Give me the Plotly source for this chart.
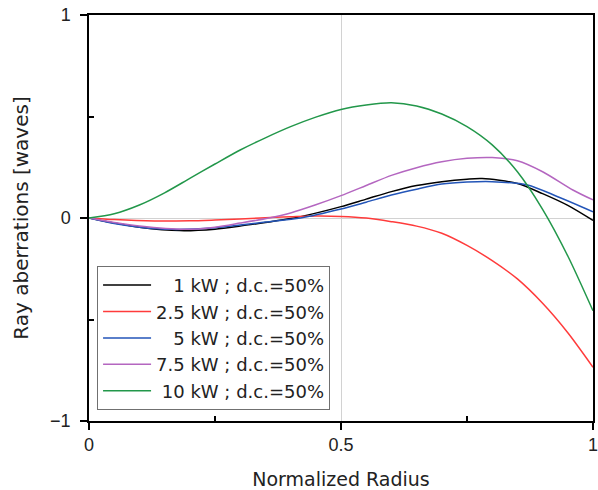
import plotly.graph_objects as go

# Ray aberration curves vs normalized pupil radius, per laser power (duty cycle 50%)
x_1kw = [0, 0.05, 0.1, 0.18, 0.25, 0.3, 0.35, 0.4, 0.45, 0.5, 0.55, 0.6, 0.65, 0.7, 0.75, 0.78, 0.85, 0.9, 0.95, 1.0]
y_1kw = [0, -0.025, -0.045, -0.062, -0.055, -0.04, -0.022, -0.003, 0.024, 0.056, 0.093, 0.13, 0.16, 0.179, 0.191, 0.194, 0.17, 0.12, 0.062, -0.012]

x_2p5kw = [0, 0.05, 0.13, 0.2, 0.25, 0.3, 0.34, 0.4, 0.45, 0.5, 0.55, 0.6, 0.65, 0.7, 0.75, 0.8, 0.85, 0.9, 0.95, 1.0]
y_2p5kw = [0, -0.008, -0.015, -0.014, -0.01, -0.005, 0, 0.006, 0.01, 0.008, 0, -0.018, -0.04, -0.075, -0.135, -0.21, -0.3, -0.42, -0.565, -0.735]

x_5kw = [0, 0.05, 0.1, 0.165, 0.25, 0.3, 0.35, 0.42, 0.5, 0.55, 0.6, 0.65, 0.7, 0.75, 0.8, 0.87, 0.93, 1.0]
y_5kw = [0, -0.027, -0.045, -0.056, -0.048, -0.035, -0.02, 0, 0.044, 0.078, 0.113, 0.142, 0.167, 0.177, 0.179, 0.163, 0.105, 0.031]

x_7p5kw = [0, 0.05, 0.1, 0.19, 0.25, 0.3, 0.357, 0.4, 0.45, 0.5, 0.55, 0.6, 0.65, 0.7, 0.75, 0.8, 0.85, 0.9, 0.96, 1.0]
y_7p5kw = [0, -0.022, -0.04, -0.056, -0.045, -0.025, 0, 0.025, 0.065, 0.11, 0.16, 0.21, 0.248, 0.277, 0.294, 0.298, 0.282, 0.228, 0.138, 0.089]

x_10kw = [0, 0.05, 0.1, 0.15, 0.2, 0.25, 0.3, 0.35, 0.4, 0.45, 0.5, 0.55, 0.6, 0.65, 0.7, 0.75, 0.8, 0.85, 0.9, 0.95, 1.0]
y_10kw = [0, 0.021, 0.064, 0.124, 0.195, 0.266, 0.335, 0.395, 0.45, 0.497, 0.535, 0.557, 0.568, 0.552, 0.512, 0.45, 0.36, 0.228, 0.043, -0.187, -0.457]

# figure space / punctuation space keep the legend text right-aligned
names = [
    "\u2007\u20081 kW ; d.c.=50%",
    "2.5 kW ; d.c.=50%",
    "\u2007\u20085 kW ; d.c.=50%",
    "7.5 kW ; d.c.=50%",
    "\u200810 kW ; d.c.=50%",
]
colors = ["#000000", "#ff3b3b", "#2355b8", "#b466c0", "#22974a"]
series = [(x_1kw, y_1kw), (x_2p5kw, y_2p5kw), (x_5kw, y_5kw), (x_7p5kw, y_7p5kw), (x_10kw, y_10kw)]

FONT = "DejaVu Sans, Liberation Sans, sans-serif"
TICKFONT = "Liberation Sans, Arial, sans-serif"
TXT = "#222222"

fig = go.Figure()
for (xs, ys), name, c in zip(series, names, colors):
    fig.add_trace(go.Scatter(
        x=xs, y=ys, mode="lines", name=name,
        line=dict(color=c, width=1.5, shape="spline", smoothing=0.8),
    ))

axis_common = dict(
    showline=True, linecolor="#000000", linewidth=1.5, mirror=True,
    ticks="outside", ticklen=7, tickcolor="#000000", tickwidth=1.5,
    showgrid=True, gridcolor="#d2d2d2", gridwidth=1,
    zeroline=False, automargin=False, ticklabeloverflow="allow",
    tickfont=dict(family=TICKFONT, size=18, color=TXT),
    minor=dict(ticks="inside", ticklen=5, tickcolor="#000000", tickwidth=1.5, showgrid=False),
)

fig.update_xaxes(
    range=[0, 1], tickvals=[0, 0.5, 1], ticktext=["0", "0.5", "1"],
    title=dict(text="Normalized Radius", font=dict(family=FONT, size=19, color=TXT), standoff=22),
    **axis_common,
)
fig.update_xaxes(minor_tickvals=[0.25, 0.75])
fig.update_yaxes(
    range=[-1, 1], tickvals=[-1, 0, 1], ticktext=["\u22121", "0", "1"],
    title=dict(text="Ray aberrations [waves]", font=dict(family=FONT, size=20, color=TXT), standoff=16),
    ticklabelstandoff=6,
    **axis_common,
)
fig.update_yaxes(minor_tickvals=[-0.5, 0.5])

fig.update_layout(
    width=598, height=490,
    margin=dict(l=89, r=5, t=15, b=69),
    paper_bgcolor="white", plot_bgcolor="white",
    showlegend=True,
    # right-hand frame carries inward ticks only
    yaxis2=dict(
        overlaying="y", side="right", range=[-1, 1], matches="y",
        tickvals=[-1, -0.5, 0, 0.5, 1], ticks="inside", ticklen=5,
        tickcolor="#000000", tickwidth=1.5, showticklabels=False,
        showgrid=False, zeroline=False, showline=False, automargin=False,
    ),
    legend=dict(
        x=0.016, y=0.382, xanchor="left", yanchor="top",
        bgcolor="white", bordercolor="#707070", borderwidth=1,
        font=dict(family=FONT, size=18, color=TXT),
        tracegroupgap=0, itemwidth=48,
    ),
)

fig.write_html("out.html")
